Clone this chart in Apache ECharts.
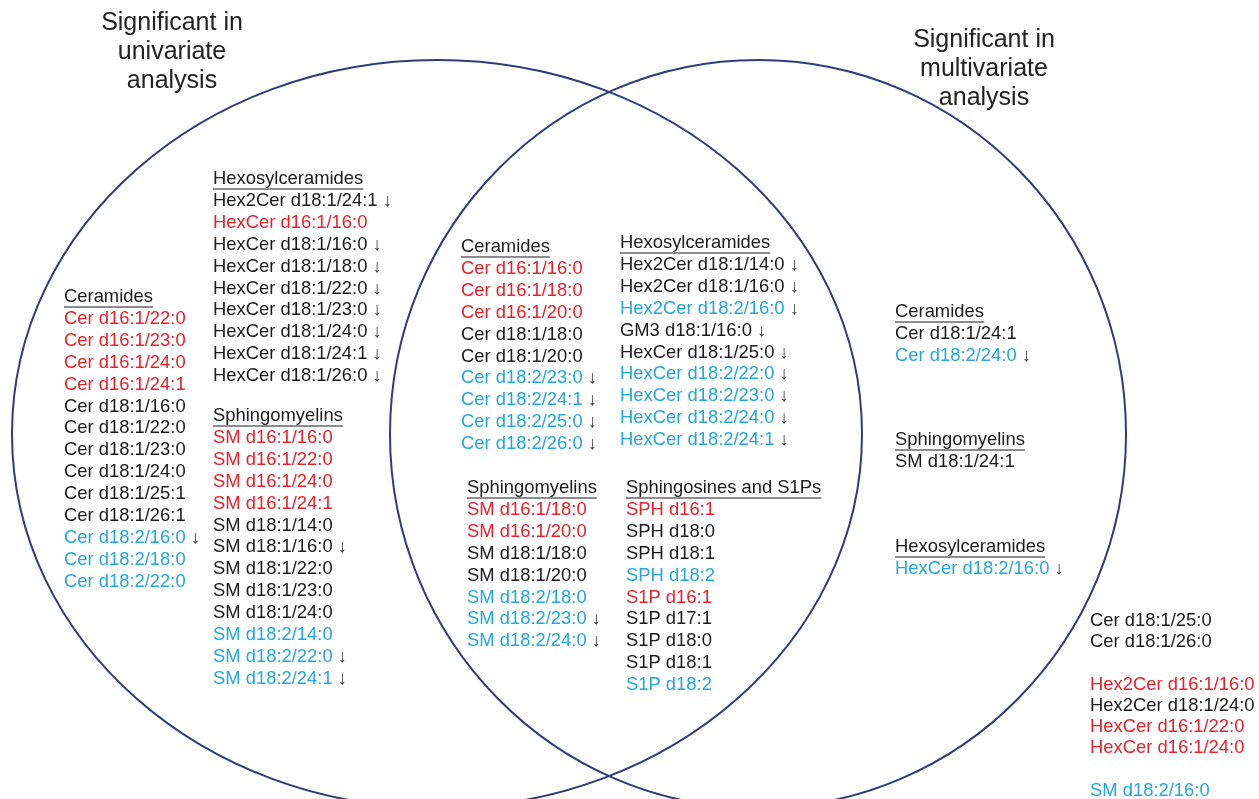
<!DOCTYPE html>
<html><head><meta charset="utf-8">
<script src="https://cdn.jsdelivr.net/npm/echarts@6/dist/echarts.min.js"></script>
<style>html,body{margin:0;padding:0;background:#fff}#c{width:1259px;height:799px}</style>
</head><body><div id="c"></div>
<script>
// ---------- data ----------
const setNames = ['Significant in\nunivariate\nanalysis', 'Significant in\nmultivariate\nanalysis'];

// only in univariate analysis
const uniCeramides = ['Cer d16:1/22:0','Cer d16:1/23:0','Cer d16:1/24:0','Cer d16:1/24:1','Cer d18:1/16:0','Cer d18:1/22:0','Cer d18:1/23:0','Cer d18:1/24:0','Cer d18:1/25:1','Cer d18:1/26:1','Cer d18:2/16:0 ↓','Cer d18:2/18:0','Cer d18:2/22:0'];
const uniHexCer = ['Hex2Cer d18:1/24:1 ↓','HexCer d16:1/16:0','HexCer d18:1/16:0 ↓','HexCer d18:1/18:0 ↓','HexCer d18:1/22:0 ↓','HexCer d18:1/23:0 ↓','HexCer d18:1/24:0 ↓','HexCer d18:1/24:1 ↓','HexCer d18:1/26:0 ↓'];
const uniSM = ['SM d16:1/16:0','SM d16:1/22:0','SM d16:1/24:0','SM d16:1/24:1','SM d18:1/14:0','SM d18:1/16:0 ↓','SM d18:1/22:0','SM d18:1/23:0','SM d18:1/24:0','SM d18:2/14:0','SM d18:2/22:0 ↓','SM d18:2/24:1 ↓'];
// in both analyses
const bothCeramides = ['Cer d16:1/16:0','Cer d16:1/18:0','Cer d16:1/20:0','Cer d18:1/18:0','Cer d18:1/20:0','Cer d18:2/23:0 ↓','Cer d18:2/24:1 ↓','Cer d18:2/25:0 ↓','Cer d18:2/26:0 ↓'];
const bothHexCer = ['Hex2Cer d18:1/14:0 ↓','Hex2Cer d18:1/16:0 ↓','Hex2Cer d18:2/16:0 ↓','GM3 d18:1/16:0 ↓','HexCer d18:1/25:0 ↓','HexCer d18:2/22:0 ↓','HexCer d18:2/23:0 ↓','HexCer d18:2/24:0 ↓','HexCer d18:2/24:1 ↓'];
const bothSM = ['SM d16:1/18:0','SM d16:1/20:0','SM d18:1/18:0','SM d18:1/20:0','SM d18:2/18:0','SM d18:2/23:0 ↓','SM d18:2/24:0 ↓'];
const bothSPH = ['SPH d16:1','SPH d18:0','SPH d18:1','SPH d18:2','S1P d16:1','S1P d17:1','S1P d18:0','S1P d18:1','S1P d18:2'];
// only in multivariate analysis
const multiCeramides = ['Cer d18:1/24:1','Cer d18:2/24:0 ↓'];
const multiSM = ['SM d18:1/24:1'];
const multiHexCer = ['HexCer d18:2/16:0 ↓'];
// outside both circles
const outsideList = ['Cer d18:1/25:0','Cer d18:1/26:0','','Hex2Cer d16:1/16:0','Hex2Cer d18:1/24:0','HexCer d16:1/22:0','HexCer d16:1/24:0','','SM d18:2/16:0'];

const blocks = [
  {title:'Ceramides', items:uniCeramides},
  {title:'Hexosylceramides', items:uniHexCer},
  {title:'Sphingomyelins', items:uniSM},
  {title:'Ceramides', items:bothCeramides},
  {title:'Hexosylceramides', items:bothHexCer},
  {title:'Sphingomyelins', items:bothSM},
  {title:'Sphingosines and S1Ps', items:bothSPH},
  {title:'Ceramides', items:multiCeramides},
  {title:'Sphingomyelins', items:multiSM},
  {title:'Hexosylceramides', items:multiHexCer},
  {title:'', items:outsideList}
];

// ---------- layout (plot units = pixels of the frame) ----------
const W = 1259, H = 799;
const setShapes = [[437,434,425,374],[758,434,368,374]];   // cx, cy, rx, ry
const setTitlePos = [[172,52],[984,69]];
// x, y of first line, line spacing
const blockPos = [[64,297,21.9],[213,179,21.9],[213,416,21.9],[461,247,21.9],[620,243,21.9],[467,488,21.9],[626,488,21.9],[895,312,21.9],[895,440,21.9],[895,547,21.9],[1090,621,21.2]];
const FONT = '18.4px "Liberation Sans", Arial, sans-serif';
const TITLE_FONT = '25px "Liberation Sans", Arial, sans-serif';
const COLORS = {red:'#e8212b', blue:'#23a8dc', black:'#1a1a1a', arrow:'#333333', circle:'#2e3c78'};

function colorOf(name){
  if (/d16:/.test(name)) return COLORS.red;
  if (/d18:2/.test(name)) return COLORS.blue;
  return COLORS.black;
}
const mctx = document.createElement('canvas').getContext('2d');
function textWidth(t, font){ mctx.font = font; return mctx.measureText(t).width; }

const chart = echarts.init(document.getElementById('c'));
chart.setOption({
  animation:false,
  backgroundColor:'#ffffff',
  grid:{left:0,right:0,top:0,bottom:0},
  xAxis:{type:'value',min:0,max:W,show:false},
  yAxis:{type:'value',min:0,max:H,inverse:true,show:false},
  series:[
    {
      type:'custom', name:'sets', silent:true,
      data:setShapes.map((s,i)=>[s[0],s[1],s[2],s[3],i]),
      encode:{x:0,y:1},
      renderItem(params, api){
        const c = api.coord([api.value(0), api.value(1)]);
        const s = api.size([api.value(2), api.value(3)]);
        return {type:'ellipse', shape:{cx:c[0], cy:c[1], rx:Math.abs(s[0]), ry:Math.abs(s[1])},
          style:{fill:'none', stroke:COLORS.circle, lineWidth:2}};
      }
    },
    {
      type:'custom', name:'setTitles', silent:true,
      data:setTitlePos.map((p,i)=>[p[0],p[1],i]),
      encode:{x:0,y:1},
      renderItem(params, api){
        const c = api.coord([api.value(0), api.value(1)]);
        return {type:'text', x:c[0], y:c[1], style:{text:setNames[api.value(2)], font:TITLE_FONT,
          fill:'#222222', align:'center', verticalAlign:'middle', lineHeight:29}};
      }
    },
    {
      type:'custom', name:'lists', silent:true,
      data:blockPos.map((p,i)=>[p[0],p[1],i,p[2]]),
      encode:{x:0,y:1},
      renderItem(params, api){
        const b = blocks[api.value(2)];
        const p = api.coord([api.value(0), api.value(1)]);
        const step = Math.abs(api.size([0, api.value(3)])[1]);
        const children = [];
        let row = 0;
        if (b.title){
          children.push({type:'text', x:p[0], y:p[1], style:{text:b.title, font:FONT, fill:COLORS.black, align:'left', verticalAlign:'middle'}});
          const w = textWidth(b.title, FONT);
          children.push({type:'line', shape:{x1:p[0], y1:p[1]+10, x2:p[0]+w, y2:p[1]+10}, style:{stroke:COLORS.black, lineWidth:1.2}});
          row = 1;
        }
        b.items.forEach(it=>{
          if (it){
            const down = it.indexOf('↓') >= 0;
            const name = it.replace('↓','').trim();
            children.push({type:'text', x:p[0], y:p[1]+row*step, style:{
              text: down ? '{n|'+name+'} {a|↓}' : '{n|'+name+'}',
              rich:{n:{fill:colorOf(name), font:FONT}, a:{fill:COLORS.arrow, font:FONT}},
              font:FONT, align:'left', verticalAlign:'middle'}});
          }
          row++;
        });
        return {type:'group', children};
      }
    }
  ]
});
</script></body></html>
